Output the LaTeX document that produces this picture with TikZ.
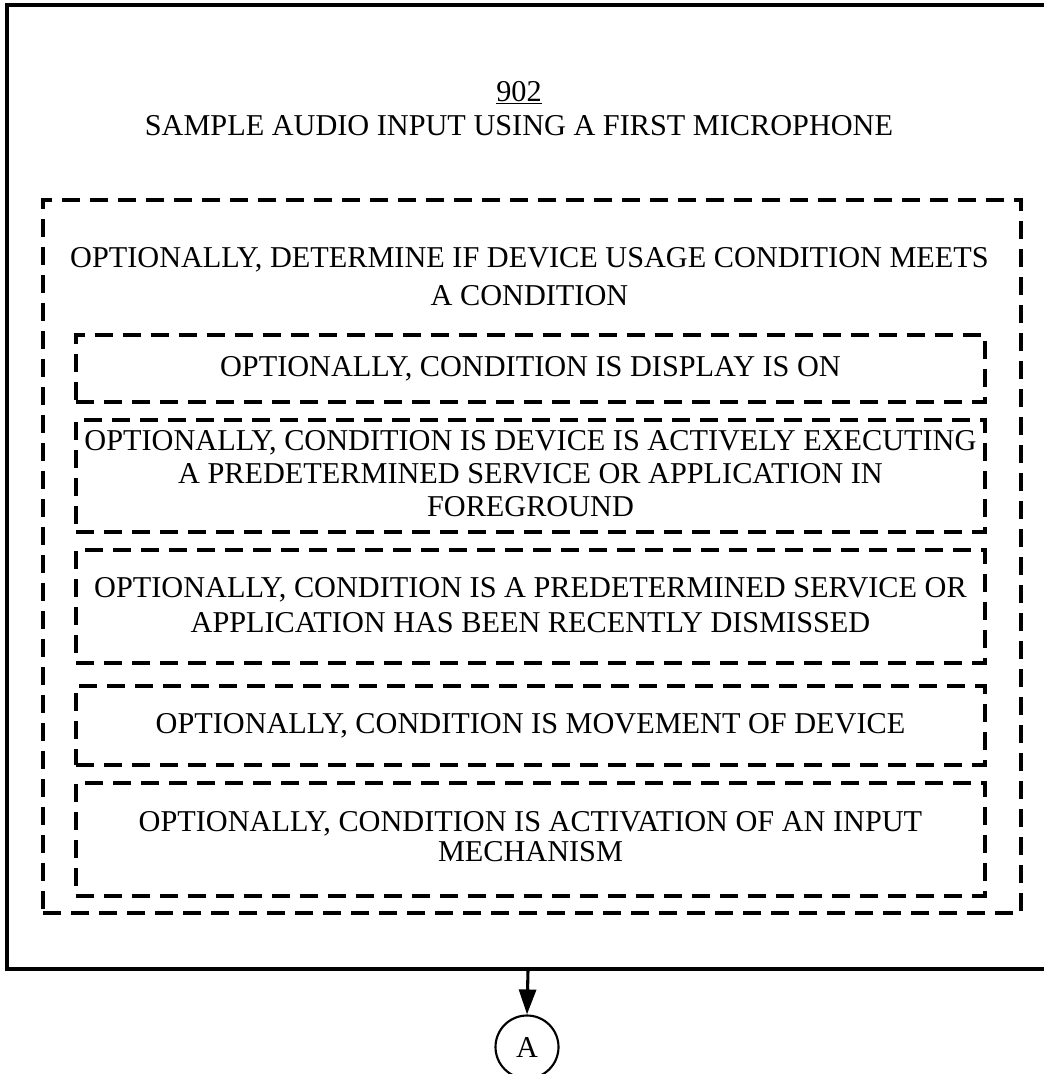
\documentclass[tikz,border=0pt]{standalone}
\usepackage{fontspec}
\setmainfont{Liberation Serif}
\usetikzlibrary{arrows.meta, positioning}

\tikzset{
    dashbox/.style={draw, line width=2.3pt, dash pattern=on 13.5pt off 7.5pt, inner sep=0pt, align=center},
    condbox/.style={dashbox, minimum width=681.75pt},
}
% extra depth under the last line, to lift a text block a little
\newcommand{\liftby}[1]{\rule[-#1]{0pt}{0pt}}

\begin{document}
\begin{tikzpicture}[x=0.75pt, y=-0.75pt, font=\fontsize{22.7}{28.5}\selectfont]
            \useasboundingbox (0,0) rectangle (1043,1074);

            % step 902
            \node[draw, line width=2.3pt, minimum width=781.5pt, minimum height=723pt] (step902) at (528,487) {};
            \node (num902) at (519,93) {\underline{902}};
            \node (title902) at (519,126) {SAMPLE AUDIO INPUT USING A FIRST MICROPHONE};

            % optional condition group
            \node[dashbox, minimum width=733.5pt, minimum height=534.75pt] (condgrp) at (532,556.5) {};
            \node[align=center] (condhdr) at (529.5,277) {OPTIONALLY, DETERMINE IF DEVICE USAGE CONDITION MEETS\\A CONDITION};

            \node[condbox, minimum height=50.25pt] (display) at (530.5,368.5) {OPTIONALLY, CONDITION IS DISPLAY IS ON};
            \node[condbox, minimum height=84pt, font=\fontsize{22.7}{24.75}\selectfont] (foreground) at (530.5,476) {OPTIONALLY, CONDITION IS DEVICE IS ACTIVELY EXECUTING\\A PREDETERMINED SERVICE OR APPLICATION IN\\FOREGROUND\liftby{3.8pt}};
            \node[condbox, minimum height=84.75pt, font=\fontsize{22.7}{26.25}\selectfont] (dismissed) at (530.5,606.5) {OPTIONALLY, CONDITION IS A PREDETERMINED SERVICE OR\\APPLICATION HAS BEEN RECENTLY DISMISSED\liftby{2.2pt}};
            \node[condbox, minimum height=59.25pt] (movement) at (530.5,725.5) {OPTIONALLY, CONDITION IS MOVEMENT OF DEVICE};
            \node[condbox, minimum height=84.75pt, font=\fontsize{22.7}{22.5}\selectfont] (inputmech) at (530.5,839.5) {OPTIONALLY, CONDITION IS ACTIVATION OF AN INPUT\\MECHANISM\liftby{5.2pt}};

            % off-page connector
            \node[draw, circle, line width=1.6pt, minimum size=47.25pt, inner sep=0pt] (conA) at (527,1047) {A};
            \draw[line width=2.3pt, -{Triangle[length=18.75pt, width=12.75pt]}] (step902.south) -- (conA.north);
        \end{tikzpicture}
\end{document}
